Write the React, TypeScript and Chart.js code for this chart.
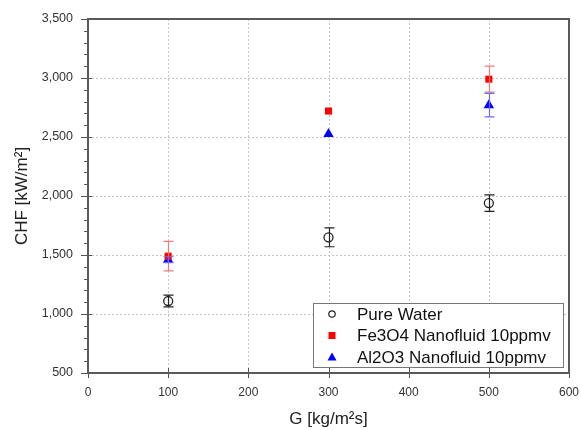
import React, { useEffect, useRef } from "react";
import { Chart, registerables } from "chart.js";

Chart.register(...registerables);

const gValues = [100, 300, 500];
const pureWater = [1110, 1650, 1940];
const pureWaterErr = [50, 80, 70];
const fe3o4 = [1490, 2720, 2990];
const fe3o4Err = [125, 0, 110];
const al2o3 = [1460, 2525, 2770];
const al2o3Err = [25, 0, 100];

const seriesLabels = ["Pure Water", "Fe3O4 Nanofluid 10ppmv", "Al2O3 Nanofluid 10ppmv"];
const xTicks = [0, 100, 200, 300, 400, 500, 600];
const yTicks = [500, 1000, 1500, 2000, 2500, 3000, 3500];

const FONT = "'Liberation Sans', Arial, sans-serif";

const zeroPad = (s: any) => {
  s.paddingLeft = 0;
  s.paddingRight = 0;
  s.paddingTop = 0;
  s.paddingBottom = 0;
};

const gridPlugin = {
  id: "dottedGrid",
  beforeDatasetsDraw(chart: any) {
    const ctx = chart.ctx;
    const a = chart.chartArea;
    const xs = chart.scales.x;
    const ys = chart.scales.y;
    ctx.save();
    ctx.strokeStyle = "#c4c4c4";
    ctx.lineWidth = 1;
    ctx.setLineDash([2, 2]);
    ctx.beginPath();
    xTicks.forEach((v) => {
      const x = Math.round(xs.getPixelForValue(v)) + 0.5;
      ctx.moveTo(x, a.top);
      ctx.lineTo(x, a.bottom);
    });
    yTicks.forEach((v) => {
      const y = Math.round(ys.getPixelForValue(v)) + 0.5;
      ctx.moveTo(a.left, y);
      ctx.lineTo(a.right, y);
    });
    ctx.stroke();
    ctx.restore();
  },
};

const errorBarPlugin = {
  id: "errorBars",
  afterDatasetsDraw(chart: any) {
    const ctx = chart.ctx;
    const xs = chart.scales.x;
    const ys = chart.scales.y;
    chart.data.datasets.forEach((ds: any) => {
      const errs: number[] = ds.errors || [];
      ds.data.forEach((p: any, i: number) => {
        const e = errs[i];
        if (!e) return;
        const x = Math.round(xs.getPixelForValue(p.x)) + 0.5;
        const yt = ys.getPixelForValue(p.y + e);
        const yb = ys.getPixelForValue(p.y - e);
        ctx.save();
        ctx.strokeStyle = ds.errorColor;
        ctx.lineWidth = 1.2;
        ctx.beginPath();
        ctx.moveTo(x, yt);
        ctx.lineTo(x, yb);
        ctx.moveTo(x - 5, yt);
        ctx.lineTo(x + 5, yt);
        ctx.moveTo(x - 5, yb);
        ctx.lineTo(x + 5, yb);
        ctx.stroke();
        ctx.restore();
      });
    });
  },
};

const framePlugin = {
  id: "frameTicks",
  afterDraw(chart: any) {
    const ctx = chart.ctx;
    const a = chart.chartArea;
    const xs = chart.scales.x;
    const ys = chart.scales.y;
    ctx.save();
    ctx.strokeStyle = "#555";
    ctx.lineWidth = 1;
    ctx.beginPath();
    for (let v = 500; v <= 3500; v += 100) {
      const y = Math.round(ys.getPixelForValue(v)) + 0.5;
      const major = v % 500 === 0;
      ctx.moveTo(a.left - (major ? 7 : 4), y);
      ctx.lineTo(a.left + (major ? 4 : 0), y);
    }
    xTicks.forEach((v) => {
      const x = Math.round(xs.getPixelForValue(v)) + 0.5;
      ctx.moveTo(x, a.bottom + 5);
      ctx.lineTo(x, a.bottom - 5);
    });
    ctx.stroke();
    ctx.lineWidth = 2;
    ctx.strokeStyle = "#5a5a5a";
    ctx.strokeRect(a.left, a.top, a.right - a.left, a.bottom - a.top);
    ctx.restore();

    // Legend box
    const lx = 313, ly = 303, lw = 250, lh = 64;
    ctx.save();
    ctx.fillStyle = "#fff";
    ctx.fillRect(lx, ly, lw, lh);
    ctx.strokeStyle = "#777";
    ctx.lineWidth = 1;
    ctx.strokeRect(lx + 0.5, ly + 0.5, lw, lh);
    ctx.font = "17px " + FONT;
    ctx.textBaseline = "middle";
    chart.data.datasets.forEach((ds: any, i: number) => {
      const cy = ly + 11 + i * 21.5;
      const cx = lx + 19;
      ctx.save();
      ctx.lineWidth = 1.2;
      if (ds.pointStyle === "circle") {
        ctx.strokeStyle = ds.borderColor;
        ctx.beginPath();
        ctx.arc(cx, cy, 3.2, 0, Math.PI * 2);
        ctx.stroke();
      } else if (ds.pointStyle === "rect") {
        ctx.fillStyle = ds.backgroundColor;
        ctx.fillRect(cx - 3.5, cy - 3.5, 7, 7);
      } else {
        ctx.fillStyle = ds.backgroundColor;
        ctx.beginPath();
        ctx.moveTo(cx, cy - 4.5);
        ctx.lineTo(cx + 4.5, cy + 3.5);
        ctx.lineTo(cx - 4.5, cy + 3.5);
        ctx.closePath();
        ctx.fill();
      }
      ctx.restore();
      ctx.fillStyle = "#111";
      ctx.fillText(ds.label, lx + 44, cy + 1);
    });
    ctx.restore();
  },
};

export default function App() {
  const ref = useRef<HTMLCanvasElement | null>(null);
  useEffect(() => {
    if (!ref.current) return;
    const mk = (ys: number[]) => gValues.map((g, i) => ({ x: g, y: ys[i] }));
    const chart = new Chart(ref.current, {
      type: "scatter",
      data: {
        datasets: [
          {
            label: seriesLabels[0],
            data: mk(pureWater),
            errors: pureWaterErr,
            errorColor: "#222",
            pointStyle: "circle",
            pointRadius: 4.5,
            borderWidth: 1.3,
            borderColor: "#222",
            backgroundColor: "#fff",
          } as any,
          {
            label: seriesLabels[1],
            data: mk(fe3o4),
            errors: fe3o4Err,
            errorColor: "#f07a7a",
            pointStyle: "rect",
            pointRadius: 5,
            borderWidth: 0,
            borderColor: "#ff0000",
            backgroundColor: "#ff0000",
          } as any,
          {
            label: seriesLabels[2],
            data: mk(al2o3),
            errors: al2o3Err,
            errorColor: "#6a6aff",
            pointStyle: "triangle",
            pointRadius: 6,
            borderWidth: 0,
            borderColor: "#0000ff",
            backgroundColor: "#0000ff",
          } as any,
        ],
      },
      options: {
        animation: false,
        responsive: false,
        layout: { autoPadding: false, padding: { top: 19, right: 12, left: 12, bottom: 0 } },
        plugins: { legend: { display: false }, tooltip: { enabled: false } },
        scales: {
          x: {
            type: "linear",
            min: 0,
            max: 600,
            afterBuildTicks: (s: any) => {
              s.ticks = xTicks.map((v) => ({ value: v }));
            },
            afterFit: (s: any) => {
              s.height = 57;
              zeroPad(s);
            },
            grid: { display: false, drawTicks: false },
            border: { display: false },
            ticks: {
              padding: 12,
              color: "#333",
              font: { family: FONT, size: 12 },
              callback: (v: any) => String(v),
            },
            title: {
              display: true,
              text: "G [kg/m\u00b2s]",
              color: "#222",
              font: { family: FONT, size: 17 },
              padding: { top: 4, bottom: 0 },
            },
          },
          y: {
            type: "linear",
            min: 500,
            max: 3500,
            afterBuildTicks: (s: any) => {
              s.ticks = yTicks.map((v) => ({ value: v }));
            },
            afterFit: (s: any) => {
              s.width = 76;
              zeroPad(s);
            },
            grid: { display: false, drawTicks: false },
            border: { display: false },
            ticks: {
              padding: 15,
              color: "#333",
              font: { family: FONT, size: 12.5 },
              callback: (v: any) => Number(v).toLocaleString("en-US"),
            },
            title: {
              display: true,
              text: "CHF [kW/m\u00b2]",
              color: "#222",
              font: { family: FONT, size: 17 },
              padding: { top: 0, bottom: 0 },
            },
          },
        },
      } as any,
      plugins: [gridPlugin, errorBarPlugin, framePlugin],
    });
    return () => chart.destroy();
  }, []);
  return (
    <div style={{ position: "fixed", left: 0, top: 0, width: 581, height: 430, background: "#fff" }}>
      <canvas ref={ref} width={581} height={430} style={{ display: "block" }} />
    </div>
  );
}
